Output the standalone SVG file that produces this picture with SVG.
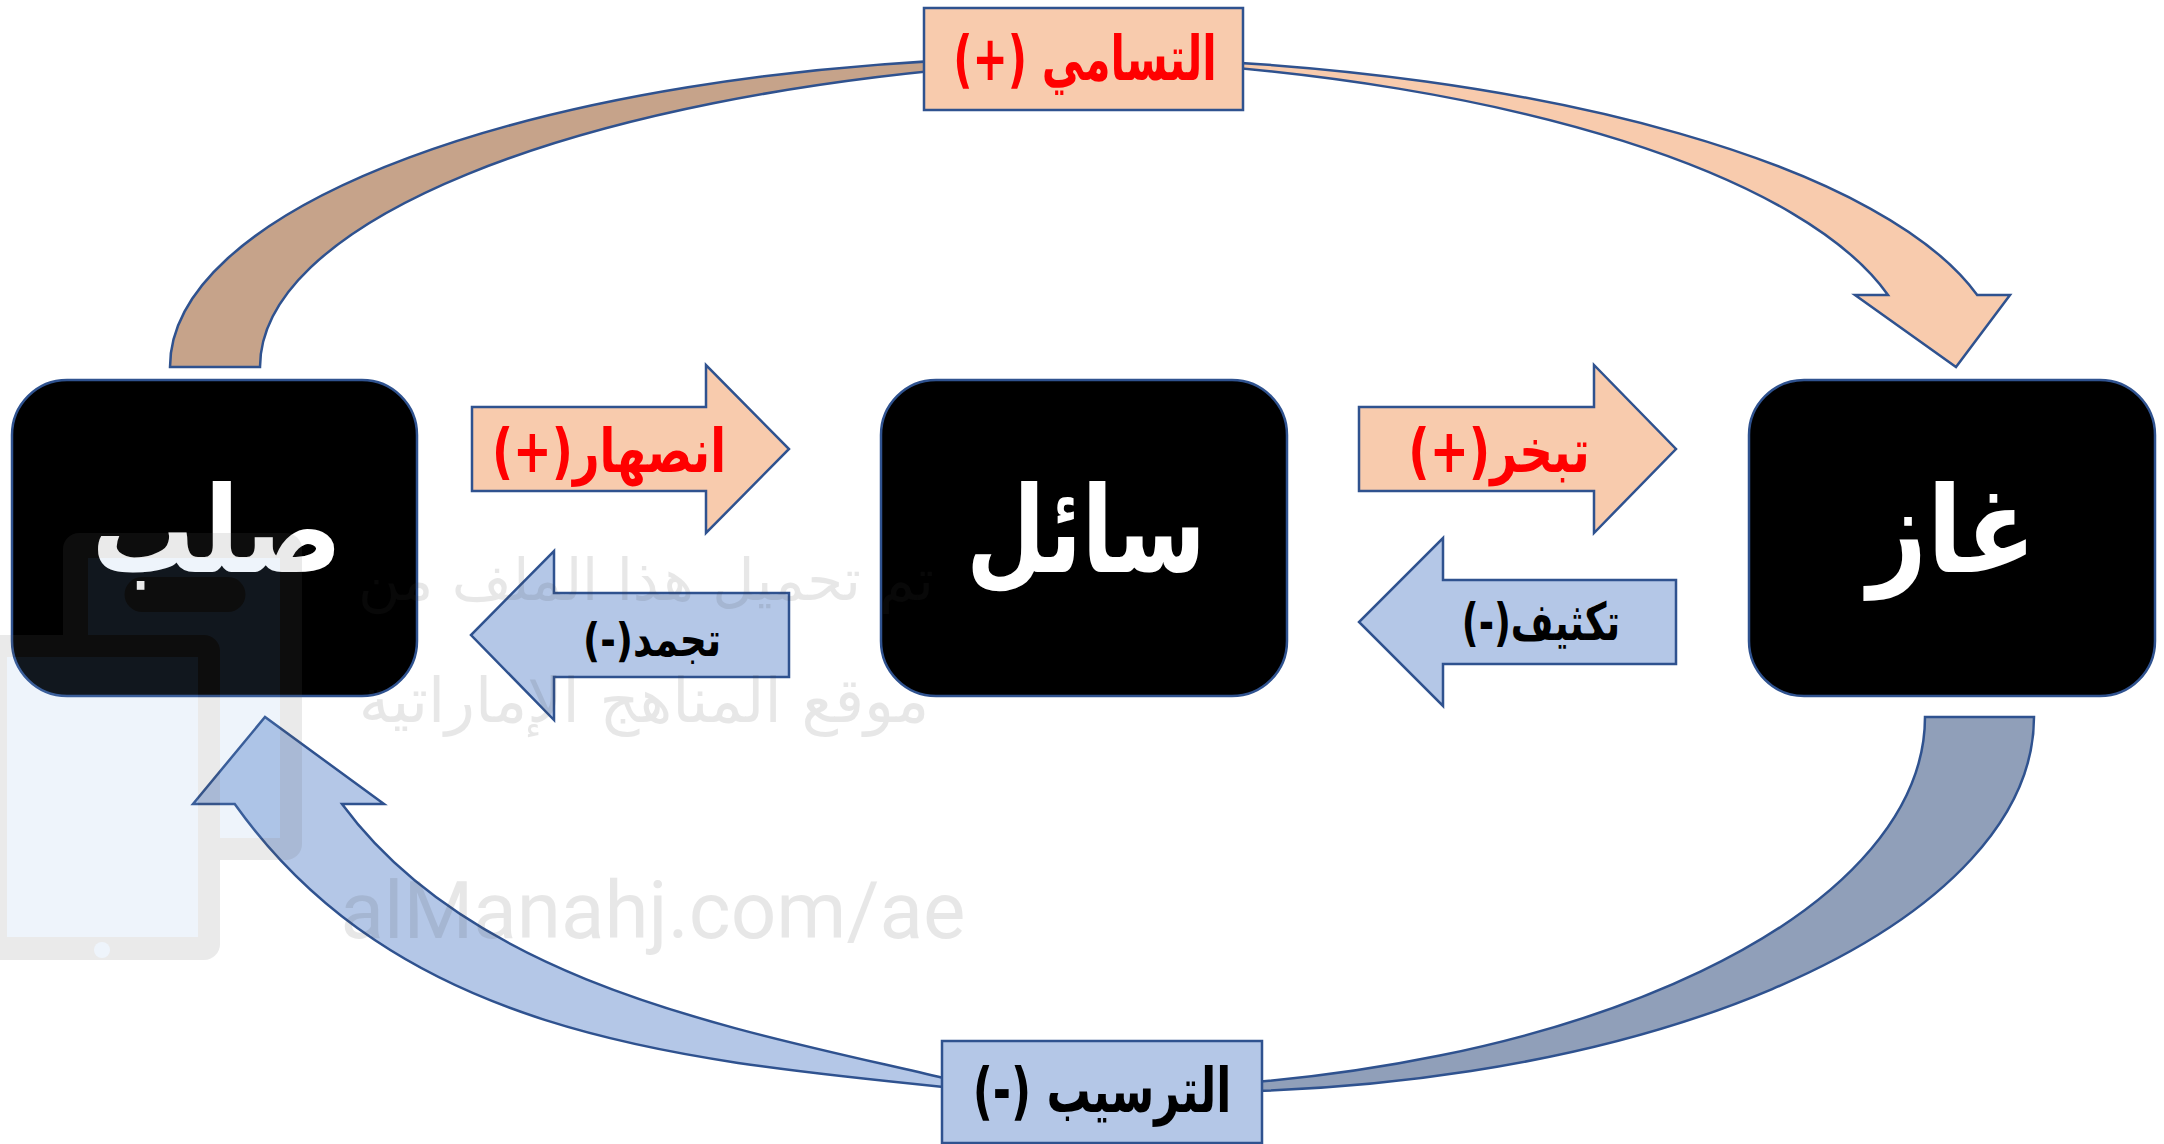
<svg xmlns="http://www.w3.org/2000/svg" width="2164" height="1144" viewBox="0 0 2164 1144">
<defs>
<style>
.box{fill:#000;stroke:#2F528F;stroke-width:2.5}
.ln{stroke:#2F528F;stroke-width:2.5;stroke-linejoin:miter}
.peach{fill:#F8CBAD}
.tan{fill:#C6A38A}
.blue{fill:#B4C7E7}
.dblue{fill:#909FB9}
.t{font-family:"DejaVu Sans",sans-serif;font-weight:bold;text-anchor:middle;direction:rtl}
.nt{font-size:120px;fill:#fff}
.red{fill:#FF0000}
.blk{fill:#000}
.wm{font-family:"DejaVu Sans",sans-serif;fill:#404040;text-anchor:middle;direction:rtl}
.wml{font-family:Roboto,sans-serif;fill:#404040;text-anchor:middle}
</style>
</defs>
<rect width="2164" height="1144" fill="#fff"/>
<g id="connectors">
<g id="sublimation">
<path class="tan ln" d="M170,367 A910,310 0 0 1 1000,58.2 L1000,65 A955,310 0 0 0 260,367 Z"/>
<path class="peach ln" d="M1150,58.5 A945,310 0 0 1 1977.2,295 L2010,295 L1956,367 L1855,295 L1888,295 A919,310 0 0 0 1150,61.5 Z"/>
<rect class="peach ln" x="924" y="8" width="319" height="102"/>
<text class="t red" font-size="62" transform="translate(1085,80) scale(0.68,1)">التسامي (+)</text>
</g>
<g id="deposition">
<path class="dblue ln" d="M1925,717 L2034,717 A840,375 0 0 1 1150,1091.5 L1150,1088.2 A828,372 0 0 0 1925,717 Z"/>
<path class="blue ln" d="M234.7,804 C397,1031 665,1059 943.5,1087 L1000,1090 L1000,1081 L943.5,1078 C740,1030 475,985 342,804 L384,804 L265,717 L193,804 Z"/>
<rect class="blue ln" x="942" y="1041" width="320" height="102"/>
<text class="t blk" font-size="62" transform="translate(1102,1112) scale(0.71,1)">الترسيب (-)</text>
</g>
<g id="melting">
<path class="peach ln" d="M472,407 L706,407 L706,365 L789,449 L706,533 L706,491 L472,491 Z"/>
<text class="t red" font-size="60" transform="translate(609,472) scale(0.77,1)">انصهار(+)</text>
</g>
<g id="freezing">
<path class="blue ln" d="M789,593 L554,593 L554,551 L471,635 L554,720 L554,677 L789,677 Z"/>
<text class="t blk" font-size="47" transform="translate(652,656) scale(0.8,1)">تجمد(-)</text>
</g>
<g id="evaporation">
<path class="peach ln" d="M1359,407 L1594,407 L1594,365 L1676,449 L1594,533 L1594,491 L1359,491 Z"/>
<text class="t red" font-size="60" transform="translate(1499,472) scale(0.78,1)">تبخر(+)</text>
</g>
<g id="condensation">
<path class="blue ln" d="M1676,580 L1443,580 L1443,538 L1359,622 L1443,706 L1443,664 L1676,664 Z"/>
<text class="t blk" font-size="52" transform="translate(1541,640) scale(0.71,1)">تكثيف(-)</text>
</g>
</g>
<g id="node-solid">
<rect class="box" x="12" y="380" width="405" height="316" rx="55" ry="55"/>
<text class="t nt" transform="translate(217,572) scale(0.86,1)">صلب</text>
</g>
<g id="node-liquid">
<rect class="box" x="881" y="380" width="406" height="316" rx="55" ry="55"/>
<text class="t nt" transform="translate(1086,572) scale(0.76,1)">سائل</text>
</g>
<g id="node-gas">
<rect class="box" x="1749" y="380" width="406" height="316" rx="55" ry="55"/>
<text class="t nt" transform="translate(1952,572) scale(0.86,1)">غاز</text>
</g>
<g id="watermark">
<g opacity="0.13">
<rect x="63" y="533" width="239" height="327" rx="16" fill="#646464"/>
<path fill="#84B2E8" fill-rule="evenodd" d="M88,558 H280 V838 H88 Z M142,577 H228 A17.5,17.5 0 0 1 228,612 H142 A17.5,17.5 0 0 1 142,577 Z"/>
<rect x="-20" y="635" width="240" height="325" rx="16" fill="#646464"/>
<rect x="7" y="657" width="191" height="280" fill="#84B2E8"/>
<circle cx="102" cy="950" r="8" fill="#84B2E8"/>
</g>
<g opacity="0.12">
<text class="wm" x="646" y="600" font-size="58">تم تحميل هذا الملف من</text>
<text class="wm" x="644" y="722" font-size="62">موقع المناهج الإماراتية</text>
<text class="wml" x="653" y="938" font-size="80">alManahj.com/ae</text>
</g>
</g>
</svg>
